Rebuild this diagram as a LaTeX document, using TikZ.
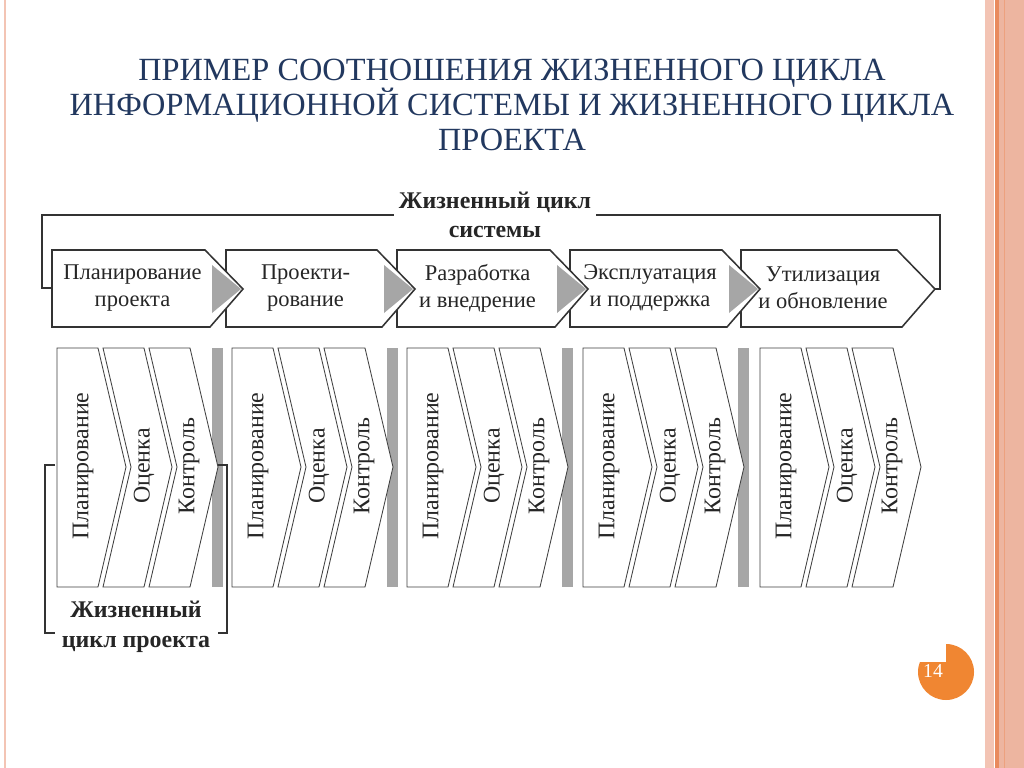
\documentclass[tikz,border=0pt]{standalone}
\usepackage{fontspec}
\setmainfont{Liberation Serif}
\usepackage{tikz}
\definecolor{titleblue}{HTML}{22385F}
\definecolor{pagepink}{HTML}{F3C4B4}
\definecolor{pagesalmon}{HTML}{EDB5A0}
\definecolor{pageorange}{HTML}{E98A5E}
\definecolor{dotorange}{HTML}{F08632}
\tikzset{
  phase/.style={draw=black!80,line width=1.1pt,fill=white},
  step chevron/.style={draw=black!75,line width=.6pt,fill=white},
  phasetext/.style={font=\fontsize{16}{19}\selectfont,align=center,text=black!85},
  steptext/.style={font=\fontsize{17}{19}\selectfont,rotate=90,text=black!85},
  boldlabel/.style={font=\fontsize{17}{21}\selectfont\bfseries,align=center,text=black!85},
  bracket/.style={draw=black!80,line width=1.1pt}
}
\begin{document}
\begin{tikzpicture}[x=0.025cm,y=-0.025cm]
\useasboundingbox(0,0)rectangle(1024,768);
\fill[white](0,0)rectangle(1024,768);
%page border
\draw[pagepink,line width=.8pt](5,0)--(5,768);
\fill[pagepink](985,0)rectangle(994,768);
\fill[pageorange](995,0)rectangle(999,768);
\fill[pagesalmon](999,0)rectangle(1024,768);
\draw[pageorange!80,line width=.4pt](1004,0)--(1004,768);
%title
\node[font=\fontsize{23}{25}\selectfont,text=titleblue,align=center](title)at(512,105)
{ПРИМЕР СООТНОШЕНИЯ ЖИЗНЕННОГО ЦИКЛА\\ИНФОРМАЦИОННОЙ СИСТЕМЫ И ЖИЗНЕННОГО ЦИКЛА\\ПРОЕКТА};
%system life cycle bracket
\node[boldlabel](syslabel)at(495,215){Жизненный цикл\\системы};
\draw[bracket](syslabel.west|-0,215)--(42,215)--(42,288)--(52,288);
\draw[bracket](syslabel.east|-0,215)--(940,215)--(940,289)--(935,289);
%top phases, drawn right to left
\foreach \L/\T/\txt/\nm [count=\i] in {741/935/{Утилизация\\и обновление}/util,
  570/760/{Эксплуатация\\и поддержка}/expl,397/588/{Разработка\\и внедрение}/dev,
  226/415/{Проекти-\\рование}/design,52/243/{Планирование\\проекта}/plan}{
  \draw[phase](\L,250)--(\T-38,250)--(\T,289)--(\T-33,327)--(\L,327)--cycle;
  \ifnum\i>1 \fill[gray!70](\T-31,265)--(\T-2,289)--(\T-31,313)--cycle;\fi
  \node[phasetext](\nm)at({(\L+\T-30)/2},288){\txt};
}
%project steps
\foreach \g [count=\j] in {57,232,407,583,760}{
  \ifnum\j<5 \fill[gray!70](\g+155,348)rectangle(\g+166,587);\fi
  \draw[step chevron](\g,348)--(\g+41,348)--(\g+69,467)--(\g+41,587)--(\g,587)--cycle;
  \foreach \k in {1,2}{
    \draw[step chevron](\g+46*\k,348)--(\g+46*\k+41,348)--(\g+46*\k+69,467)
      --(\g+46*\k+41,587)--(\g+46*\k,587)--(\g+46*\k+28,467)--cycle;
  }
  \node[steptext](plan\j)at(\g+26,466){Планирование};
  \node[steptext](est\j)at(\g+87,466){Оценка};
  \node[steptext](ctrl\j)at(\g+132,466){Контроль};
}
%project life cycle bracket
\node[boldlabel](projlabel)at(136,627){Жизненный\\цикл проекта};
\draw[bracket](55,465)--(45,465)--(45,633)--(55,633);
\draw[bracket](218,465)--(227,465)--(227,633)--(218,633);
%page number
\begin{scope}
\clip(946,640)rectangle(980,705)(900,662)rectangle(980,705);
\fill[dotorange](946,672)circle(28);
\end{scope}
\node[text=white,font=\fontsize{14}{14}\selectfont](pagenum)at(933,671){14};
\end{tikzpicture}
\end{document}
